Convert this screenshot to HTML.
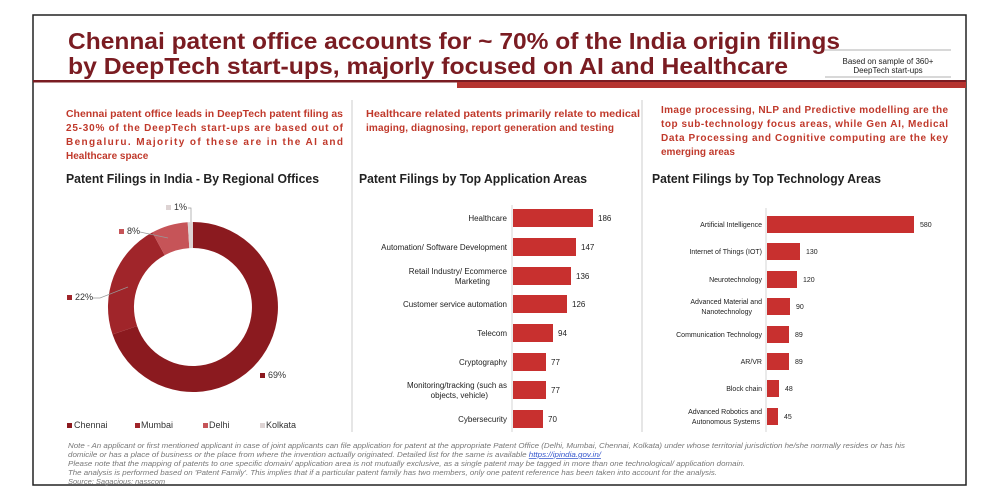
<!DOCTYPE html>
<html><head><meta charset="utf-8"><style>
html,body{margin:0;padding:0;background:#fff;}
svg{display:block;font-family:"Liberation Sans",sans-serif;}
</style></head><body>
<svg width="1000" height="500" viewBox="0 0 1000 500" xmlns="http://www.w3.org/2000/svg">
<rect x="33" y="15" width="933" height="470" fill="#fff" stroke="#222" stroke-width="1.5"/>
<text x="68" y="49" font-size="23" font-weight="bold" fill="#7a1c22" textLength="772" lengthAdjust="spacingAndGlyphs">Chennai patent office accounts for ~ 70% of the India origin filings</text>
<text x="68" y="74" font-size="23" font-weight="bold" fill="#7a1c22" textLength="720" lengthAdjust="spacingAndGlyphs">by DeepTech start-ups, majorly focused on AI and Healthcare</text>
<line x1="825" y1="50" x2="951" y2="50" stroke="#999" stroke-width="0.8"/>
<line x1="825" y1="77" x2="951" y2="77" stroke="#999" stroke-width="0.8"/>
<text x="888" y="64" font-size="8" fill="#222" text-anchor="middle">Based on sample of 360+</text>
<text x="888" y="73" font-size="8" fill="#222" text-anchor="middle">DeepTech start-ups</text>
<rect x="33" y="80" width="933" height="2.5" fill="#7a1c22"/>
<rect x="457" y="82" width="509" height="6" fill="#b5332f"/>
<line x1="352" y1="100" x2="352" y2="432" stroke="#ccc" stroke-width="1"/>
<line x1="642" y1="100" x2="642" y2="432" stroke="#ccc" stroke-width="1"/>
<g font-size="10" font-weight="bold" fill="#c0392b">
<text x="66" y="117" textLength="277" lengthAdjust="spacingAndGlyphs">Chennai patent office leads in DeepTech patent filing as</text>
<text x="66" y="131" textLength="277" lengthAdjust="spacing">25-30% of the DeepTech start-ups are based out of</text>
<text x="66" y="145" textLength="277" lengthAdjust="spacing">Bengaluru. Majority of these are in the AI and</text>
<text x="66" y="159">Healthcare space</text>
<text x="366" y="117" textLength="274" lengthAdjust="spacingAndGlyphs">Healthcare related patents primarily relate to medical</text>
<text x="366" y="131" textLength="248" lengthAdjust="spacing">imaging, diagnosing, report generation and testing</text>
<text x="661" y="113" textLength="287" lengthAdjust="spacing">Image processing, NLP and Predictive modelling are the</text>
<text x="661" y="127" textLength="287" lengthAdjust="spacing">top sub-technology focus areas, while Gen AI, Medical</text>
<text x="661" y="141" textLength="287" lengthAdjust="spacing">Data Processing and Cognitive computing are the key</text>
<text x="661" y="155">emerging areas</text>
</g>
<g font-size="13" font-weight="bold" fill="#222">
<text x="66" y="183" textLength="253" lengthAdjust="spacingAndGlyphs">Patent Filings in India - By Regional Offices</text>
<text x="359" y="183" textLength="228" lengthAdjust="spacingAndGlyphs">Patent Filings by Top Application Areas</text>
<text x="652" y="183" textLength="229" lengthAdjust="spacingAndGlyphs">Patent Filings by Top Technology Areas</text>
</g>
<g transform="translate(193,307)">
<path d="M0,-85 A85,85 0 1 1 -80.5,27.4 L-55.9,19.0 A59,59 0 1 0 0,-59 Z" fill="#8b1a1f"/>
<path d="M-80.5,27.4 A85,85 0 0 1 -40.7,-74.6 L-28.3,-51.8 A59,59 0 0 0 -55.9,19.0 Z" fill="#a0252a"/>
<path d="M-40.7,-74.6 A85,85 0 0 1 -5.3,-84.8 L-3.7,-58.9 A59,59 0 0 0 -28.3,-51.8 Z" fill="#c65458"/>
<path d="M-5.3,-84.8 A85,85 0 0 1 0,-85 L0,-59 A59,59 0 0 0 -3.7,-58.9 Z" fill="#ddd3d3"/>
</g>
<g stroke="#999" stroke-width="0.7" fill="none">
<polyline points="188,208 191,208 191,222"/>
<polyline points="140,232 168,238"/>
<polyline points="92,298 100,298 128,287"/>
</g>
<g font-size="9" fill="#333">
<rect x="166" y="205" width="5" height="5" fill="#ddd3d3"/><text x="174" y="210">1%</text>
<rect x="119" y="229" width="5" height="5" fill="#c65458"/><text x="127" y="234">8%</text>
<rect x="67" y="295" width="5" height="5" fill="#a0252a"/><text x="75" y="300">22%</text>
<rect x="260" y="373" width="5" height="5" fill="#8b1a1f"/><text x="268" y="378">69%</text>
<rect x="67" y="423" width="5" height="5" fill="#8b1a1f"/><text x="74" y="428">Chennai</text>
<rect x="135" y="423" width="5" height="5" fill="#a0252a"/><text x="141" y="428">Mumbai</text>
<rect x="203" y="423" width="5" height="5" fill="#c65458"/><text x="209" y="428">Delhi</text>
<rect x="260" y="423" width="5" height="5" fill="#ddd3d3"/><text x="266" y="428">Kolkata</text>
</g>
<line x1="512" y1="205" x2="512" y2="432" stroke="#ccc" stroke-width="0.8"/>
<g fill="#c8302f">
<rect x="513" y="209" width="80" height="18"/>
<rect x="513" y="238" width="63" height="18"/>
<rect x="513" y="267" width="58" height="18"/>
<rect x="513" y="295" width="54" height="18"/>
<rect x="513" y="324" width="40" height="18"/>
<rect x="513" y="353" width="33" height="18"/>
<rect x="513" y="381" width="33" height="18"/>
<rect x="513" y="410" width="30" height="18"/>
</g>
<g font-size="8" fill="#222" text-anchor="end">
<text x="507" y="221">Healthcare</text>
<text x="507" y="250">Automation/ Software Development</text>
<text x="507" y="274">Retail Industry/ Ecommerce</text>
<text x="490" y="284">Marketing</text>
<text x="507" y="307">Customer service automation</text>
<text x="507" y="336">Telecom</text>
<text x="507" y="365">Cryptography</text>
<text x="507" y="388">Monitoring/tracking (such as</text>
<text x="488" y="398">objects, vehicle)</text>
<text x="507" y="422">Cybersecurity</text>
</g>
<g font-size="8" fill="#222">
<text x="598" y="221">186</text><text x="581" y="250">147</text><text x="576" y="279">136</text><text x="572" y="307">126</text>
<text x="558" y="336">94</text><text x="551" y="365">77</text><text x="551" y="393">77</text><text x="548" y="422">70</text>
</g>
<line x1="766" y1="208" x2="766" y2="432" stroke="#ccc" stroke-width="0.8"/>
<g fill="#c8302f">
<rect x="767" y="216" width="147" height="17"/>
<rect x="767" y="243" width="33" height="17"/>
<rect x="767" y="271" width="30" height="17"/>
<rect x="767" y="298" width="23" height="17"/>
<rect x="767" y="326" width="22" height="17"/>
<rect x="767" y="353" width="22" height="17"/>
<rect x="767" y="380" width="12" height="17"/>
<rect x="767" y="408" width="11" height="17"/>
</g>
<g font-size="7" fill="#222" text-anchor="end">
<text x="762" y="227">Artificial Intelligence</text>
<text x="762" y="254">Internet of Things (IOT)</text>
<text x="762" y="282">Neurotechnology</text>
<text x="762" y="304">Advanced Material and</text>
<text x="752" y="314">Nanotechnology</text>
<text x="762" y="337">Communication Technology</text>
<text x="762" y="364">AR/VR</text>
<text x="762" y="391">Block chain</text>
<text x="762" y="414">Advanced Robotics and</text>
<text x="760" y="424">Autonomous Systems</text>
</g>
<g font-size="7" fill="#222">
<text x="920" y="227">580</text><text x="806" y="254">130</text><text x="803" y="282">120</text><text x="796" y="309">90</text>
<text x="795" y="337">89</text><text x="795" y="364">89</text><text x="785" y="391">48</text><text x="784" y="419">45</text>
</g>
<g font-size="7.5" font-style="italic" fill="#777">
<text x="68" y="448" textLength="837" lengthAdjust="spacingAndGlyphs">Note - An applicant or first mentioned applicant in case of joint applicants can file application for patent at the appropriate Patent Office (Delhi, Mumbai, Chennai, Kolkata) under whose territorial jurisdiction he/she normally resides or has his</text>
<text x="68" y="457" textLength="533" lengthAdjust="spacingAndGlyphs">domicile or has a place of business or the place from where the invention actually originated. Detailed list for the same is available <tspan fill="#3355cc" text-decoration="underline">https://ipindia.gov.in/</tspan></text>
<text x="68" y="466" textLength="677" lengthAdjust="spacingAndGlyphs">Please note that the mapping of patents to one specific domain/ application area is not mutually exclusive, as a single patent may be tagged in more than one technological/ application domain.</text>
<text x="68" y="475" textLength="649" lengthAdjust="spacingAndGlyphs">The analysis is performed based on 'Patent Family'. This implies that if a particular patent family has two members, only one patent reference has been taken into account for the analysis.</text>
<text x="68" y="484">Source: Sagacious; nasscom</text>
</g>
</svg>
</body></html>
